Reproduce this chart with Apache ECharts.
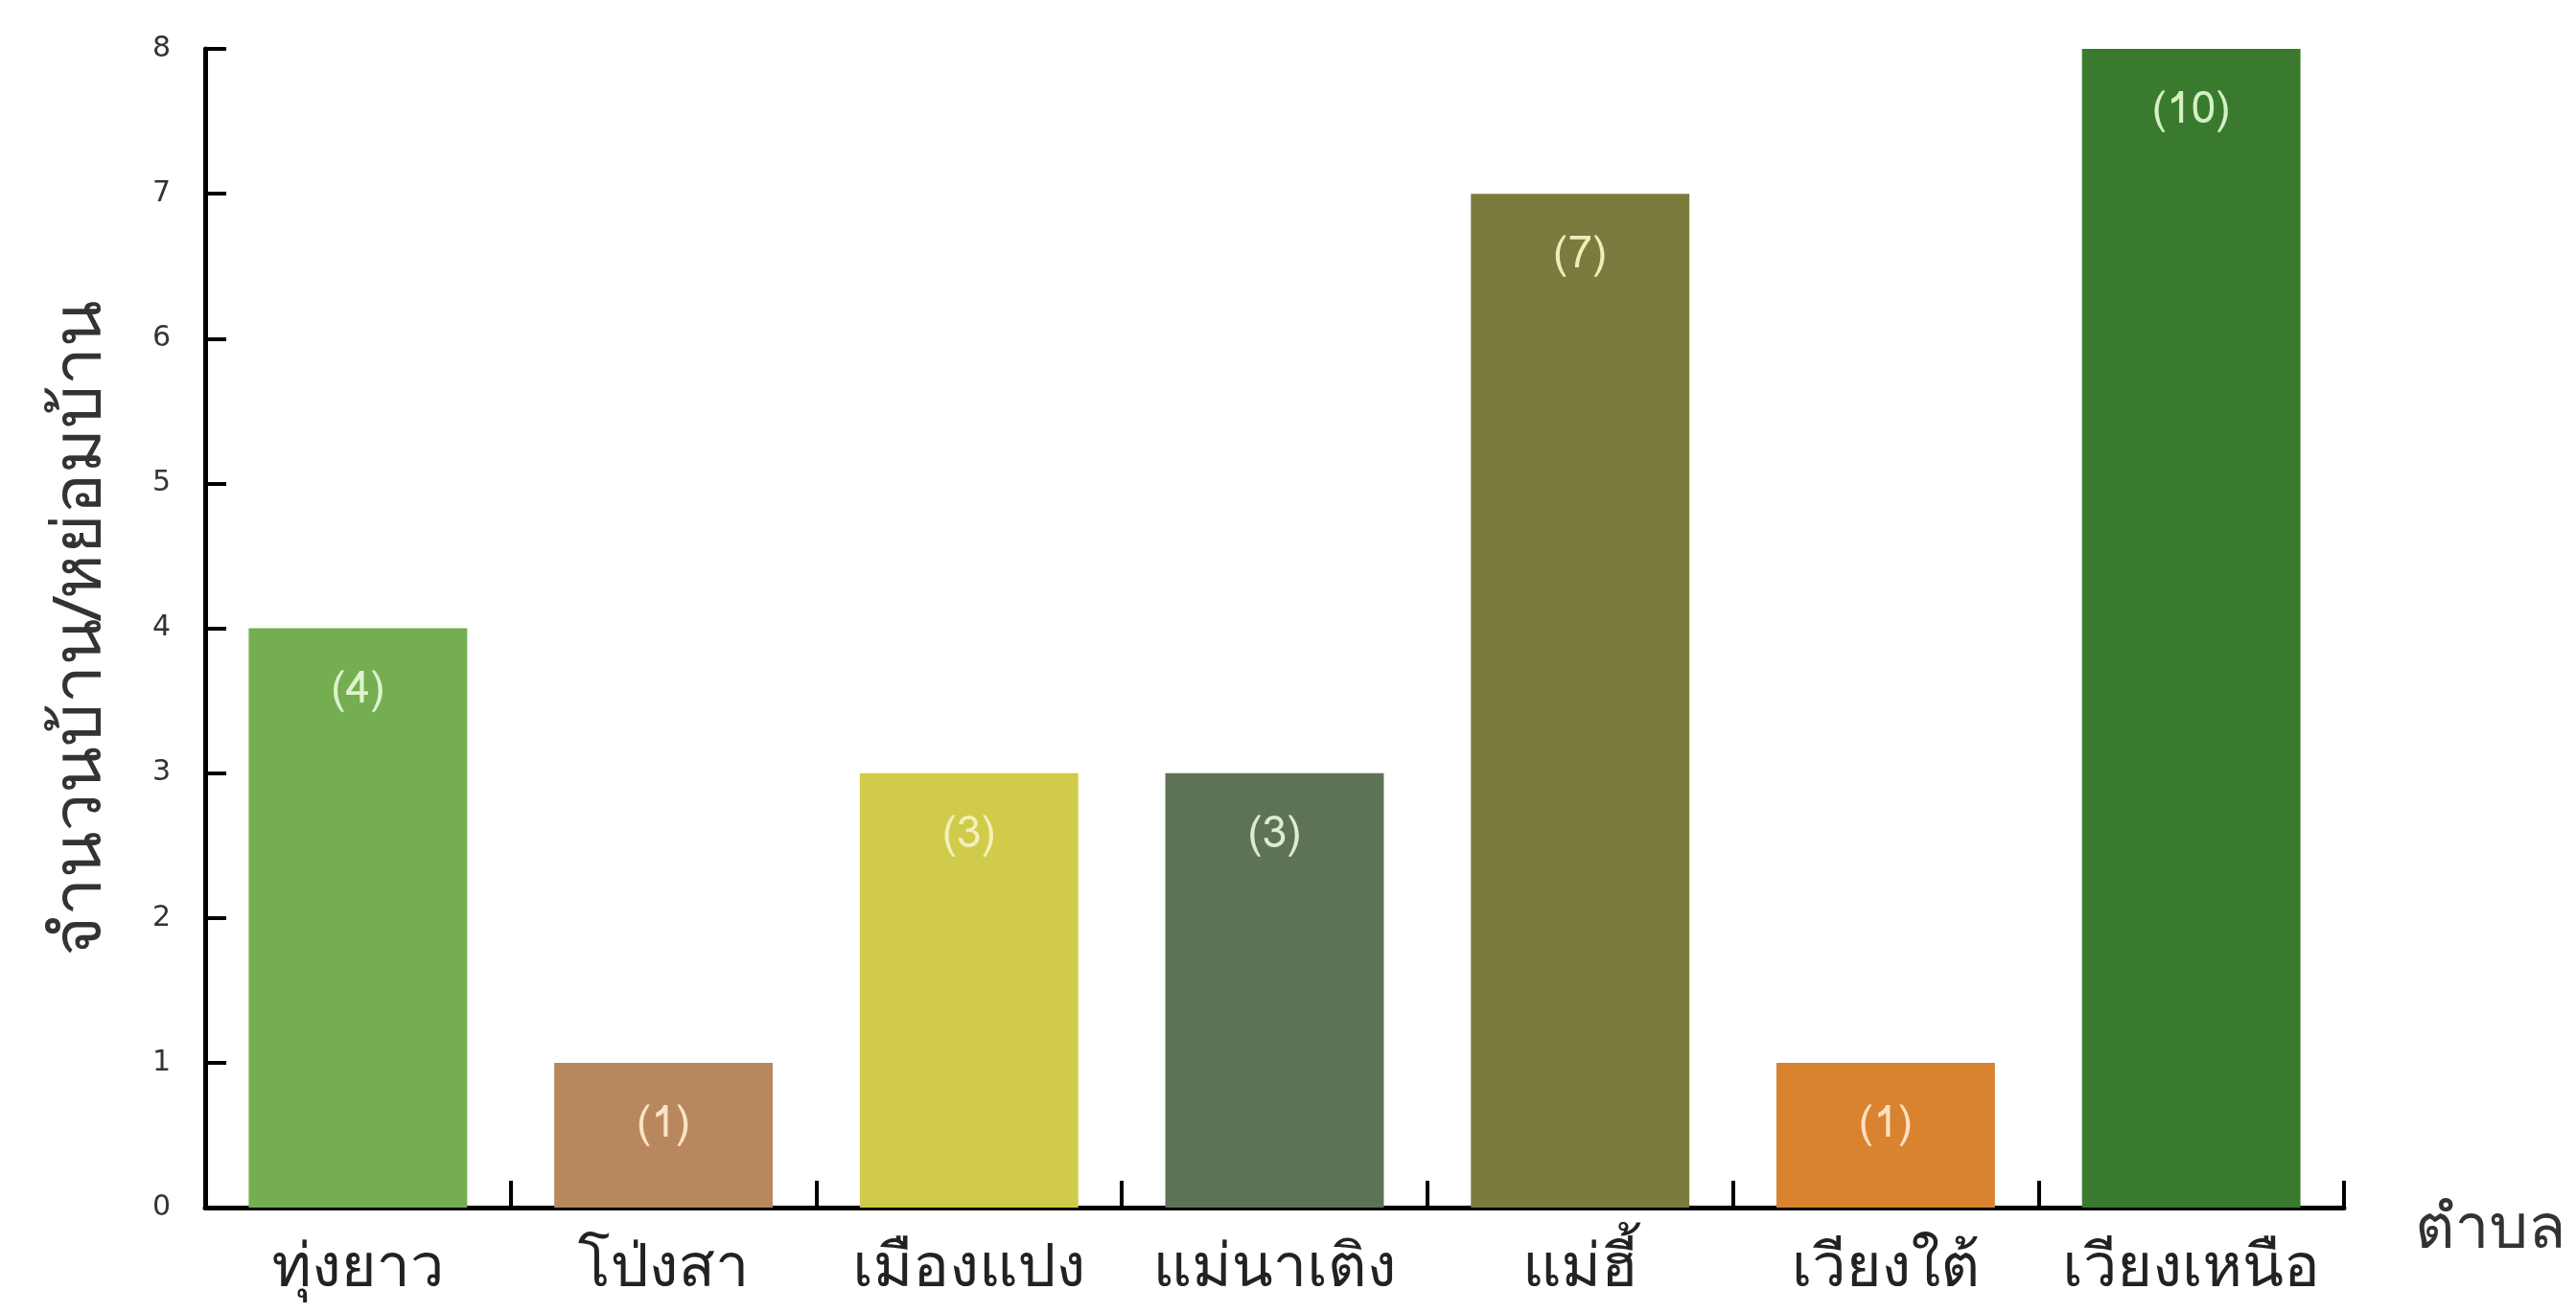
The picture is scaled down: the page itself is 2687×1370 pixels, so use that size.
<!DOCTYPE html>
<html>
<head>
<meta charset="utf-8">
<script src="https://cdn.jsdelivr.net/npm/echarts@6/dist/echarts.min.js"></script>
<style>
html,body{margin:0;padding:0;background:#fff;}
#c{width:2687px;height:1370px;}
</style>
</head>
<body>
<div id="c"></div>
<script>
var categories = ['ทุ่งยาว','โป่งสา','เมืองแปง','แม่นาเติง','แม่ฮี้','เวียงใต้','เวียงเหนือ'];
var values = [4, 1, 3, 3, 7, 1, 8];
var barLabels = ['(4)','(1)','(3)','(3)','(7)','(1)','(10)'];
var barColors = ['#74AE50','#B9875E','#D0CB4B','#5D7354','#7B7B3E','#D9822F','#3A7A2E'];
var labelColors = ['#DDF3CC','#FBE3C4','#F3F0B8','#DDEBD3','#F1ECB8','#FCE0C0','#D3F0C6'];
var yTicks = [0,1,2,3,4,5,6,7,8];
var yTitle = 'จำนวนบ้าน/หย่อมบ้าน';
var xTitle = 'ตำบล';

var font = '"Loma","Garuda","Noto Sans Thai","Noto Sans",sans-serif';
var numFont = '"DejaVu Sans","Liberation Sans",sans-serif';
var chart = echarts.init(document.getElementById('c'), null, {renderer:'canvas'});
chart.setOption({
  animation:false,
  backgroundColor:'#ffffff',
  grid:{left:214, right:242, top:51, bottom:110, containLabel:false},
  xAxis:{
    type:'category',
    data:categories,
    name:xTitle,
    nameLocation:'end',
    nameGap:74,
    nameTextStyle:{fontSize:64, color:'#333', fontFamily:font, align:'left', verticalAlign:'top', padding:[-4,0,0,0]},
    axisLine:{lineStyle:{color:'#000', width:5}},
    axisTick:{show:true, inside:true, length:28, interval:0, alignWithLabel:false, lineStyle:{color:'#000', width:4}},
    axisLabel:{interval:0, margin:36, fontSize:63, color:'#222', fontFamily:font},
    splitLine:{show:false}
  },
  yAxis:{
    type:'value',
    min:0, max:8, interval:1,
    name:yTitle,
    nameLocation:'middle',
    nameGap:89,
    nameRotate:90,
    nameTextStyle:{fontSize:71, color:'#333', fontFamily:font},
    axisLine:{show:true, lineStyle:{color:'#000', width:5}},
    axisTick:{show:true, inside:true, length:22, lineStyle:{color:'#000', width:4}},
    axisLabel:{margin:36, fontSize:30, color:'#333', fontFamily:numFont,
      formatter:function(v){ return yTicks.indexOf(v) >= 0 ? String(v) : ''; }},
    splitLine:{show:false}
  },
  series:[{
    type:'bar',
    barCategoryGap:'28.5%',
    data:values.map(function(v,i){
      return {
        value:v,
        itemStyle:{color:barColors[i]},
        label:{show:true, position:'insideTop', distance:44, formatter:barLabels[i],
               color:labelColors[i], fontSize:46, fontFamily:font}
      };
    })
  }]
});
</script>
</body>
</html>
